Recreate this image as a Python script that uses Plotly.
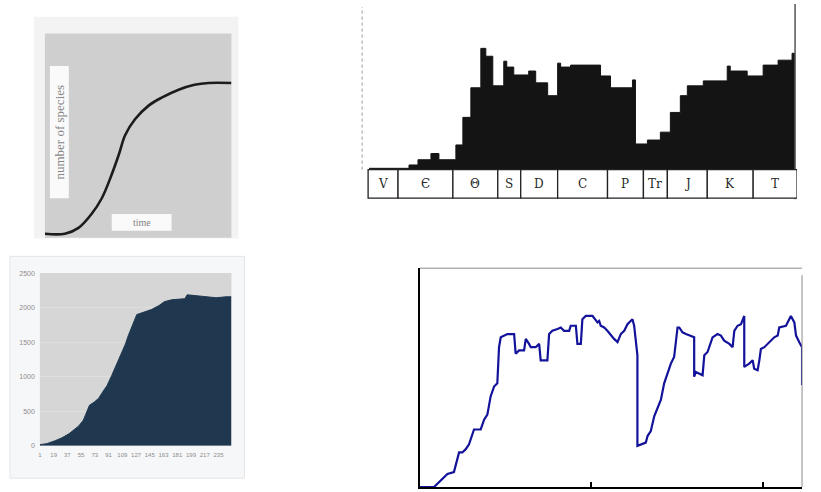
import plotly.graph_objects as go

W, H = 821, 492

# ---------------- data ----------------
# Panel 1: idealised sigmoid (number of species vs time)
p1_time = [0, 10.7, 18, 25, 30.5, 35.8, 39.6, 43, 48.3, 55.6, 62.6, 71.7, 80.2, 87.7, 100]
p1_species = [1.9, 1.9, 4.8, 11.6, 19.3, 30.9, 40.6, 50.2, 58, 64.7, 68.6, 72.5, 74.9, 75.8, 75.8]
p1_ylabel = "number of species"
p1_xlabel = "time"

# Panel 2: Phanerozoic diversity (stepped, filled)
p2_x = [7, 47, 56, 69, 77, 94, 101, 109, 119, 124, 131, 142, 145, 152, 167, 174, 186, 196, 199,
        209, 222, 239, 249, 271, 274, 286, 299, 309, 319, 326, 342, 366, 369, 386, 402, 417, 431, 434]
p2_y = [1.3, 4.7, 10, 16.3, 10, 25, 53, 83, 123, 115, 85, 110, 104, 96, 100, 88, 75, 108, 104,
        106, 106, 95, 83, 91, 26, 30, 38, 58, 75, 85, 90, 105, 100, 95, 106, 111, 118, 118]
p2_periods = ["V", "Є", "Θ", "S", "D", "C", "P", "Tr", "J", "K", "T"]
p2_bounds = [6, 36, 91, 136, 159, 196, 246, 282, 306, 346, 392, 436]

# Panel 3: cumulative filled curve
p3_x = [1, 10, 21, 30, 39, 45, 52, 58, 62, 66, 72, 78, 82, 89, 95, 99, 104, 108, 113, 117,
        123, 128, 132, 141, 147, 157, 164, 174, 191, 194, 206, 219, 232, 245, 252]
p3_y = [14, 29, 71, 114, 171, 229, 286, 371, 480, 586, 629, 686, 757, 871, 1014, 1114, 1257,
        1357, 1471, 1600, 1757, 1900, 1914, 1943, 1971, 2029, 2086, 2114, 2129, 2186, 2171,
        2157, 2143, 2157, 2157]
p3_xticks = [1, 19, 37, 55, 73, 91, 109, 127, 145, 163, 181, 199, 217, 235]
p3_yticks = [0, 500, 1000, 1500, 2000, 2500]

# Panel 4: blue stepped line
p4_x = [0, 8.2, 12.1, 14.0, 16.0, 19.8, 20.8, 22.8, 24.7, 26.7, 28.6, 30.5, 31.5, 35.4, 37.4,
        39.3, 40.3, 41.2, 43.2, 45.1, 46.1, 47.1, 51.0, 54.9, 55.8, 57.8, 60.7, 61.7, 63.6, 64.6,
        67.5, 69.5, 70.4, 74.3, 75.3, 77.2, 80.2, 82.1, 84.0, 87.0, 87.9, 90.9, 91.8, 93.8, 94.7,
        96.7, 100.6, 102.5, 103.5, 104.5, 105.4, 107.4, 109.3, 113.2, 115.2, 117.1, 119.1, 121.0,
        123.9, 124.9, 126.8, 126.8, 128.8, 131.7, 132.7, 134.6, 136.6, 138.5, 140.5, 142.4, 144.4,
        146.3, 148.2, 150.2, 151.2, 153.1, 155.1, 157.0, 159.9, 159.9, 160.9, 164.8, 165.8, 167.7,
        169.6, 170.6, 173.5, 175.5, 177.4, 180.4, 182.3, 183.3, 185.2, 187.2, 189.1, 189.1, 192.0,
        194.0, 194.9, 196.9, 197.9, 198.8, 200.8, 202.7, 204.7, 206.6, 208.6, 209.5, 213.4, 215.4,
        216.3, 218.3, 219.3, 221.2, 222.8, 222.8]
p4_y = [0, 0, 3.0, 4.5, 6.0, 6.8, 9.8, 15.8, 15.8, 17.3, 19.5, 24.1, 26.3, 26.3, 30.8,
        33.1, 36.8, 41.4, 45.9, 47.4, 63.9, 68.4, 69.9, 69.9, 60.9, 62.4, 62.4, 67.7, 65.4, 63.9,
        63.9, 65.4, 57.9, 57.9, 69.9, 71.4, 72.2, 72.9, 71.4, 71.4, 73.7, 73.7, 65.4, 65.4, 76.7,
        78.2, 78.2, 75.9, 75.2, 75.9, 73.7, 72.9, 71.4, 67.7, 66.2, 69.9, 71.4, 74.4,
        76.7, 73.7, 60.2, 18.8, 19.5, 20.3, 23.3, 25.6, 32.3, 36.1, 39.9, 47.4, 52.6,
        56.4, 59.4, 72.9, 72.9, 70.7, 69.9, 69.2, 68.4, 50.4, 52.6, 51.1, 60.2, 61.7,
        66.2, 68.4, 69.9, 69.2, 66.9, 65.4, 63.9, 71.4, 73.7, 74.4, 78.2, 54.9, 56.4,
        57.9, 54.1, 53.4, 57.9, 63.1, 63.9, 65.4, 66.9, 68.4, 69.2, 72.9, 73.7, 77.4,
        78.2, 75.2, 69.2, 66.2, 63.9, 46.6]


# ---------------- helpers (layout only) ----------------
def dom_x(a, b):
    return [a / W, b / W]


def dom_y(top, bottom):
    return [1 - bottom / H, 1 - top / H]


def px(v):
    return v / W


def py(v):
    return 1 - v / H


def rect(x0, y0, x1, y1, fill, line_color=None, lw=0, layer="below"):
    return dict(type="rect", xref="paper", yref="paper", x0=px(x0), x1=px(x1),
                y0=py(y1), y1=py(y0), fillcolor=fill, layer=layer,
                line=dict(color=line_color or fill, width=lw))


def vline(x, y0, y1, color, width=1, dash="solid"):
    return dict(type="line", xref="paper", yref="paper", x0=px(x), x1=px(x),
                y0=py(y1), y1=py(y0), line=dict(color=color, width=width, dash=dash))


def hline(y, x0, x1, color, width=1):
    return dict(type="line", xref="paper", yref="paper", x0=px(x0), x1=px(x1),
                y0=py(y), y1=py(y), line=dict(color=color, width=width))


hidden = dict(showgrid=False, zeroline=False, showline=False, showticklabels=False, ticks="")

fig = go.Figure()

# Panel 1
fig.add_trace(go.Scatter(x=p1_time, y=p1_species, mode="lines", line_shape="spline",
                         line=dict(color="#1c1c1c", width=2.6), xaxis="x", yaxis="y",
                         hoverinfo="skip"))
# Panel 2
fig.add_trace(go.Scatter(x=p2_x, y=p2_y, mode="lines", line_shape="hv", fill="tozeroy",
                         fillcolor="#141414", line=dict(color="#141414", width=1),
                         xaxis="x2", yaxis="y2", hoverinfo="skip"))
# Panel 3
fig.add_trace(go.Scatter(x=p3_x, y=p3_y, mode="lines", fill="tozeroy",
                         fillcolor="#1f3850", line=dict(color="#1f3850", width=1),
                         xaxis="x3", yaxis="y3", hoverinfo="skip"))
# Panel 4
fig.add_trace(go.Scatter(x=p4_x, y=p4_y, mode="lines",
                         line=dict(color="#12129a", width=2.2),
                         xaxis="x4", yaxis="y4", hoverinfo="skip"))

shapes = [
    # panel 1 backgrounds
    rect(32, 13, 237, 238, "#f3f3f3"),
    rect(43, 30, 230, 237, "#cfcfcf"),
    rect(48, 63, 67, 197, "#fafafa", layer="above"),
    rect(110, 213, 170, 230, "#fafafa", layer="above"),
    # panel 3 backgrounds
    rect(8, 256, 243, 481, "#f6f7f8", "#e3e5e7", 1),
    rect(38, 273, 230, 448, "#d6d6d6"),
    # panel 2 frame lines
    vline(361, 3, 168, "#9a9a9a", 1, "dot"),
    vline(795, 0, 198, "#555555", 1.5),
    # panel 4 frame lines
    hline(268, 419, 802, "#8c8c8c", 1),
    vline(802, 275, 490, "#8c8c8c", 1),
]

# Panel 2 period cells
for i, lab in enumerate(p2_periods):
    shapes.append(dict(type="rect", xref="x2", yref="paper",
                       x0=p2_bounds[i], x1=p2_bounds[i + 1], y0=py(197), y1=py(168),
                       fillcolor="white", line=dict(color="#222222", width=1.3), layer="above"))

annotations = [
    dict(text=p1_ylabel, x=px(57.5), y=py(130), xref="paper", yref="paper", showarrow=False,
         textangle=-90, xanchor="center", yanchor="middle",
         font=dict(family="Liberation Serif", size=13, color="#858585")),
    dict(text=p1_xlabel, x=px(140), y=py(221.5), xref="paper", yref="paper", showarrow=False,
         xanchor="center", yanchor="middle",
         font=dict(family="Liberation Serif", size=10, color="#858585")),
]
for i, lab in enumerate(p2_periods):
    annotations.append(dict(text=lab, x=(p2_bounds[i] + p2_bounds[i + 1]) / 2, y=py(183),
                            xref="x2", yref="paper", showarrow=False,
                            xanchor="center", yanchor="middle",
                            font=dict(family="DejaVu Serif", size=12, color="#2a2a2a")))

fig.update_layout(
    width=W, height=H, margin=dict(l=0, r=0, t=0, b=0),
    paper_bgcolor="white", plot_bgcolor="rgba(0,0,0,0)", showlegend=False,
    xaxis=dict(domain=dom_x(43, 230), range=[0, 100], anchor="y", **hidden),
    yaxis=dict(domain=dom_y(30, 237), range=[0, 100], anchor="x", **hidden),
    xaxis2=dict(domain=dom_x(361, 797), range=[0, 436], anchor="y2", **hidden),
    yaxis2=dict(domain=dom_y(3, 168), range=[0, 165], anchor="x2", **hidden),
    xaxis3=dict(domain=dom_x(38, 230), range=[1, 252], anchor="y3", showgrid=False,
                zeroline=False, showline=False, ticks="", tickvals=p3_xticks,
                ticktext=[str(v) for v in p3_xticks], tickangle=0, ticklabelstandoff=4,
                tickfont=dict(family="Liberation Sans", size=6, color="#8c8c8c")),
    yaxis3=dict(domain=dom_y(273, 448), range=[0, 2500], anchor="x3", showgrid=True,
                gridcolor="#dedede", gridwidth=1, zeroline=False, showline=False, ticks="",
                tickvals=p3_yticks, ticktext=[str(v) for v in p3_yticks], ticklabelstandoff=4,
                tickfont=dict(family="Liberation Sans", size=7, color="#8c8c8c")),
    xaxis4=dict(domain=dom_x(419, 802), range=[0, 222.8], anchor="y4", showgrid=False,
                zeroline=False, showline=True, linecolor="black", linewidth=1.5,
                ticks="inside", tickvals=[100, 200], ticklen=5, tickwidth=1.5,
                tickcolor="black", showticklabels=False),
    yaxis4=dict(domain=dom_y(268, 490), range=[0, 100], anchor="x4", showgrid=False,
                zeroline=False, showline=True, linecolor="black", linewidth=2,
                ticks="", showticklabels=False),
    shapes=shapes, annotations=annotations,
)

fig.write_html("out.html", config={"displayModeBar": False},
               post_script="document.body.style.margin='0px';"
                           "document.body.style.overflow='hidden';")
